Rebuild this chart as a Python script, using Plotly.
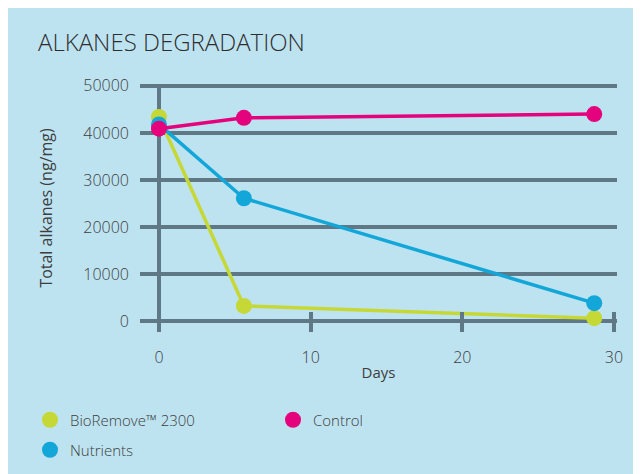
import plotly.graph_objects as go

days_bio = [0, 5.6, 28.7]
bio = [43400, 3200, 600]
days_nut = [0, 5.6, 28.7]
nutrients = [41800, 26100, 3800]
days_ctrl = [0, 5.6, 28.7]
control = [40900, 43200, 44000]

names = ["BioRemove™ 2300", "Nutrients", "Control"]
colors = ["#c6d835", "#12a6d9", "#e4037c"]
legend_ids = ["legend", "legend2", "legend"]
ranks = [1, 3, 2]

x_ticks = [0, 10, 20, 30]
y_ticks = [0, 10000, 20000, 30000, 40000, 50000]

BG = "#bee3f0"
GRID = "#5f7886"
TXT = "#3d3d3d"
FONT = "Open Sans"

fig = go.Figure()
for xs, ys, nm, c in zip([days_bio, days_nut, days_ctrl], [bio, nutrients, control], names, colors):
    fig.add_trace(go.Scatter(x=xs, y=ys, mode="lines+markers", name=nm,
                             line=dict(color=c, width=3.5),
                             marker=dict(color=c, size=16),
                             showlegend=False, hoverinfo="skip"))
for nm, c, lg, rk in zip(names, colors, legend_ids, ranks):
    fig.add_trace(go.Scatter(x=[None], y=[None], mode="markers", name=nm,
                             marker=dict(color=c, size=17), legend=lg, legendrank=rk))

leg_common = dict(orientation="h", xanchor="left", yanchor="middle", entrywidth=198,
                  font=dict(size=15, weight=300), bgcolor="rgba(0,0,0,0)",
                  traceorder="normal", itemsizing="trace")

fig.update_layout(
    width=641, height=474,
    margin=dict(l=132, r=32, t=76, b=150),
    paper_bgcolor=BG, plot_bgcolor=BG,
    font=dict(family=FONT, color=TXT, size=15),
    title=dict(text="ALKANES DEGRADATION", x=30 / 641, xanchor="left", xref="container",
               y=1 - 35 / 474, yanchor="middle", yref="container",
               font=dict(family=FONT, size=24, color="#2e2e2e", weight=300)),
    xaxis=dict(range=[-1.25, 30.2], tickvals=x_ticks, showgrid=False,
               zeroline=True, zerolinecolor=GRID, zerolinewidth=4,
               ticks="inside", ticklen=20, tickwidth=4, tickcolor=GRID,
               showline=False, tickfont=dict(size=16, weight=300),
               ticklabelstandoff=14,
               title=dict(text="Days", font=dict(size=15), standoff=0)),
    yaxis=dict(range=[-2340, 50400], tickvals=y_ticks, tickformat="d",
               showgrid=True, gridcolor=GRID, gridwidth=4,
               zeroline=True, zerolinecolor=GRID, zerolinewidth=4,
               ticks="", showline=False, tickfont=dict(size=16, weight=300),
               ticklabelstandoff=10,
               title=dict(text="Total alkanes (ng/mg)", font=dict(size=16), standoff=26)),
    legend=dict(x=(22 - 132) / 477, y=(324 - 412) / 248, **leg_common),
    legend2=dict(x=(22 - 132) / 477, y=(324 - 442) / 248, **leg_common),
)

fig.write_html("out.html")
